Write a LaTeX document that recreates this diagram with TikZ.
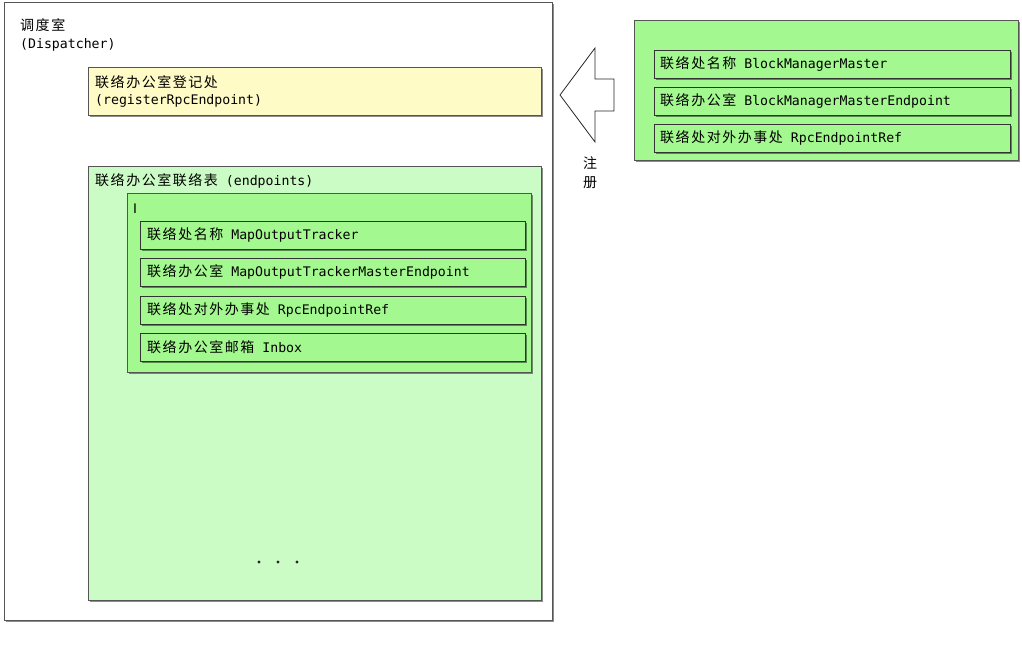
\documentclass[tikz,border=0pt]{standalone}
\usepackage{fontspec}
\setmainfont{DejaVu Sans Mono}
\newfontfamily\cjk[LetterSpace=11]{Noto Sans CJK SC}
\newfontfamily\plainsans{DejaVu Sans}
\newcommand{\zh}[1]{{\cjk\fontsize{14}{16}\selectfont #1}}
\usetikzlibrary{shadows}
\definecolor{yellowbox}{HTML}{FFFBC6}
\definecolor{lightgreen}{HTML}{CCFCC5}
\definecolor{midgreen}{HTML}{A3F98F}
\definecolor{bordergray}{HTML}{555555}
\begin{document}
\begin{tikzpicture}[x=1pt,y=-1pt,
  box/.style={draw=bordergray, line width=0.8pt, anchor=north west, inner sep=0pt,
    drop shadow={shadow xshift=1.5pt, shadow yshift=-1.5pt, opacity=0.45, fill=black}},
  rowbox/.style={box, draw=black!80, fill=midgreen, minimum width=385pt, minimum height=28pt},
  rowboxr/.style={box, draw=black!80, fill=midgreen, minimum width=356pt, minimum height=28pt},
  txt/.style={anchor=west, inner sep=0pt, font=\fontsize{13.2}{15}\selectfont},
  dot/.style={circle, fill=black!85, inner sep=0pt, minimum size=3.2pt}
]
\useasboundingbox (0,0) rectangle (1022,663);
% outer dispatcher box
\node[box, fill=white, minimum width=548pt, minimum height=618pt] (outer) at (4,2) {};
\node[txt] (t1) at (20,25) {\zh{调度室}};
\node[txt] (t2) at (20,45) {(Dispatcher)};
% yellow register box
\node[box, fill=yellowbox, minimum width=453pt, minimum height=48pt] (reg) at (88,67) {};
\node[txt] (reg1) at (95,82) {\zh{联络办公室登记处}};
\node[txt] (reg2) at (95,101) {(registerRpcEndpoint)};
% endpoints table
\node[box, fill=lightgreen, minimum width=453pt, minimum height=434pt] (tab) at (88,166) {};
\node[txt] (tabt) at (95,181) {\zh{联络办公室联络表} (endpoints)};
\node[box, fill=midgreen, minimum width=404pt, minimum height=179pt] (entry) at (127,193) {};
\node[txt] (ibar) at (133,209) {\plainsans I};
\node[rowbox] (r1) at (140,221) {};
\node[txt] at ([xshift=7pt]r1.west) {\zh{联络处名称} MapOutputTracker};
\node[rowbox] (r2) at (140,258) {};
\node[txt] at ([xshift=7pt]r2.west) {\zh{联络办公室} MapOutputTrackerMasterEndpoint};
\node[rowbox] (r3) at (140,296) {};
\node[txt] at ([xshift=7pt]r3.west) {\zh{联络处对外办事处} RpcEndpointRef};
\node[rowbox] (r4) at (140,333) {};
\node[txt] at ([xshift=7pt]r4.west) {\zh{联络办公室邮箱} Inbox};
\node[dot] (d1) at (259,562) {};
\node[dot] (d2) at (278,562) {};
\node[dot] (d3) at (297,562) {};
% arrow
\draw[fill=white, draw=black!85, line width=0.8pt] (560,95) -- (595,48) -- (595,79) -- (614,79) -- (614,111) -- (595,111) -- (595,142) -- cycle;
\node[txt, anchor=center] (zhu) at (590,163) {\zh{注}};
\node[txt, anchor=center] (ce) at (590,183) {\zh{册}};
% right box
\node[box, fill=midgreen, minimum width=384pt, minimum height=140pt] (bm) at (634,20) {};
\node[rowboxr] (b1) at (654,50) {};
\node[txt] at ([xshift=6pt]b1.west) {\zh{联络处名称} BlockManagerMaster};
\node[rowboxr] (b2) at (654,87) {};
\node[txt] at ([xshift=6pt]b2.west) {\zh{联络办公室} BlockManagerMasterEndpoint};
\node[rowboxr] (b3) at (654,124) {};
\node[txt] at ([xshift=6pt]b3.west) {\zh{联络处对外办事处} RpcEndpointRef};
\end{tikzpicture}
\end{document}
